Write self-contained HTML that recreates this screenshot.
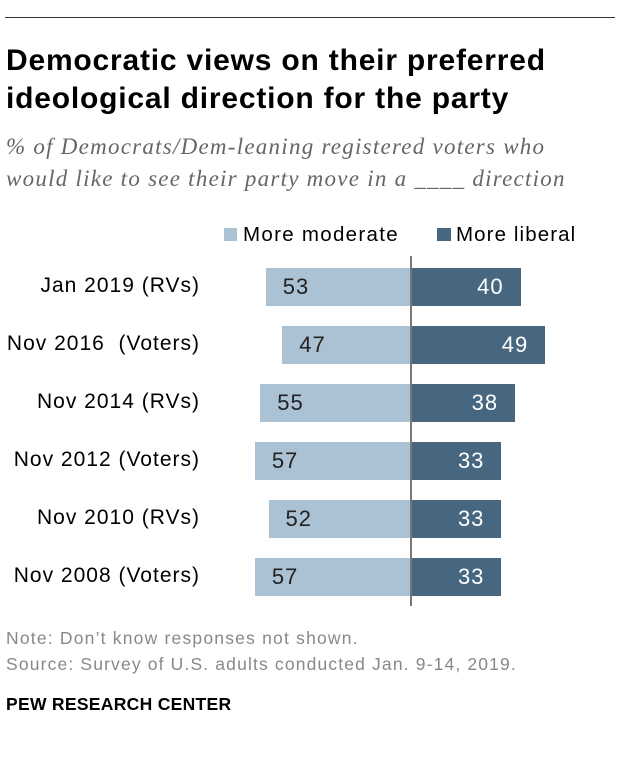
<!DOCTYPE html>
<html><head><meta charset="utf-8"><style>
body{margin:0;width:620px;height:768px;background:#fff;font-family:"Liberation Sans",sans-serif;position:relative;overflow:hidden}
.a{position:absolute;white-space:pre}
</style></head><body>
<div class="a" style="left:5px;top:17px;width:610px;height:1px;background:#333"></div>
<div class="a" style="left:6px;top:42px;font-size:30px;letter-spacing:0.8px;font-weight:bold;line-height:38px;color:#000">Democratic views on their preferred
ideological direction for the party</div>
<div class="a" style="left:6px;top:131px;font-family:'Liberation Serif',serif;font-style:italic;font-size:23px;letter-spacing:1.25px;line-height:32px;color:#666">% of Democrats/Dem-leaning registered voters who
would like to see their party move in a ____ direction</div>
<div class="a" style="left:224px;top:228px;width:13px;height:13px;background:#abc1d4"></div>
<div class="a" style="left:243px;top:223px;font-size:20.5px;letter-spacing:1.3px;color:#000">More moderate</div>
<div class="a" style="left:437px;top:228px;width:14px;height:13px;background:#46677f"></div>
<div class="a" style="left:456px;top:223px;font-size:20.5px;letter-spacing:1.1px;color:#000">More liberal</div>
<div id="chart"></div>
<div class="a" style="left:6px;top:628px;font-size:17.5px;letter-spacing:1.2px;color:#888">Note: Don’t know responses not shown.</div>
<div class="a" style="left:6px;top:654px;font-size:17.5px;letter-spacing:1.15px;color:#888">Source: Survey of U.S. adults conducted Jan. 9-14, 2019.</div>
<div class="a" style="left:6px;top:694px;font-size:17.5px;letter-spacing:0.3px;font-weight:bold;color:#000">PEW RESEARCH CENTER</div>
<script>
const categories=["Jan 2019 (RVs)","Nov 2016  (Voters)","Nov 2014 (RVs)","Nov 2012 (Voters)","Nov 2010 (RVs)","Nov 2008 (Voters)"];
const moderate=[53,47,55,57,52,57];
const liberal=[40,49,38,33,33,33];
const C=document.getElementById('chart');
const X0=411,K=2.74,Y0=268,STEP=58,H=38;
function x(v){return v*K;}
function y(i){return Y0+i*STEP;}
const ax=document.createElement('div');ax.className='a';


ax.style.cssText=`left:${X0-1}px;top:256px;width:2px;height:350px;background:#777;z-index:2`;
C.appendChild(ax);
categories.forEach((c,i)=>{
 const l=document.createElement('div');l.className='a';
 
 
 l.style.cssText=`right:${620-200}px;top:${y(i)+6}px;font-size:21px;letter-spacing:1px;color:#000`;
 l.textContent=c;C.appendChild(l);
 const m=document.createElement('div');m.className='a';
 
 
 const w=x(moderate[i]);
 m.style.cssText=`left:${X0-w}px;top:${y(i)}px;width:${w}px;height:${H}px;background:#abc1d4`;
 C.appendChild(m);
 const mt=document.createElement('div');mt.className='a';
 
 
 mt.style.cssText=`left:${X0-w+17}px;top:${y(i)+6}px;font-size:22px;letter-spacing:1px;color:#222`;
 mt.textContent=moderate[i];C.appendChild(mt);
 const b=document.createElement('div');b.className='a';
 
 
 const w2=x(liberal[i]);
 b.style.cssText=`left:${X0}px;top:${y(i)}px;width:${w2}px;height:${H}px;background:#46677f`;
 C.appendChild(b);
 const bt=document.createElement('div');bt.className='a';
 
 
 bt.style.cssText=`right:${620-(X0+w2-17)}px;top:${y(i)+6}px;font-size:22px;letter-spacing:1px;color:#fff`;
 bt.textContent=liberal[i];C.appendChild(bt);
});
</script>
</body></html>
